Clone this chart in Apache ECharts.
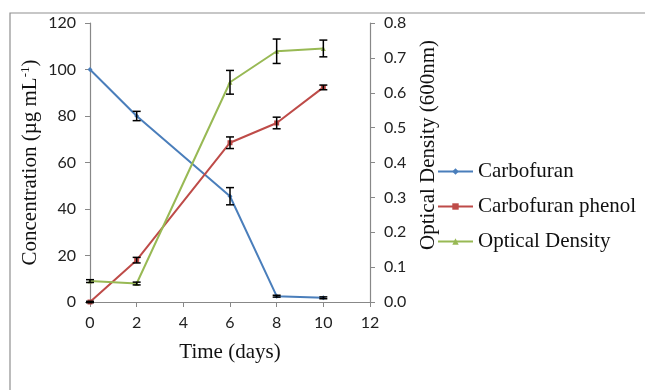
<!DOCTYPE html>
<html>
<head>
<meta charset="utf-8">
<script src="https://cdn.jsdelivr.net/npm/echarts@6/dist/echarts.min.js"></script>
<style>html,body{margin:0;padding:0;background:#fff}#c{width:645px;height:390px}</style>
</head>
<body>
<div id="c"></div>
<script>
const days = [0, 2, 6, 8, 10];
const carbofuran = [100, 80, 45.5, 2.5, 1.8];
const carbofuranErr = [0, 2, 3.7, 0.4, 0.4];
const phenol = [0, 18, 68.5, 77, 92.3];
const phenolErr = [0.3, 1.2, 2.5, 2.5, 1];
const od = [0.06, 0.053, 0.63, 0.719, 0.727];
const odErr = [0.004, 0.004, 0.034, 0.035, 0.024];
const xTicks = [0, 2, 4, 6, 8, 10, 12];
const leftTicks = [0, 20, 40, 60, 80, 100, 120];
const rightTicks = [0, 0.1, 0.2, 0.3, 0.4, 0.5, 0.6, 0.7, 0.8];

const serif = '"Liberation Serif","Times New Roman",serif';
const sans = 'Lato, "Open Sans", sans-serif';
const axisCol = '#888888';
const colors = ['#4a7ebb', '#be4b48', '#98b954'];
const tickFont = 16;

function pairs(ys) { return days.map((d, i) => [d, ys[i]]); }
function errData(ys, es) { return days.map((d, i) => [d, ys[i] - es[i], ys[i] + es[i]]); }
function errSeries(ys, es, axisIdx) {
  return {
    type: 'custom', yAxisIndex: axisIdx, silent: true, z: 5,
    data: errData(ys, es),
    renderItem: function (params, api) {
      const x = api.value(0);
      if (api.value(2) - api.value(1) <= 0) return null;
      const lo = api.coord([x, api.value(1)]);
      const hi = api.coord([x, api.value(2)]);
      const w = 4;
      const st = { stroke: '#000', lineWidth: 1.5 };
      return { type: 'group', children: [
        { type: 'line', shape: { x1: lo[0], y1: lo[1], x2: hi[0], y2: hi[1] }, style: st },
        { type: 'line', shape: { x1: lo[0] - w, y1: lo[1], x2: lo[0] + w, y2: lo[1] }, style: st },
        { type: 'line', shape: { x1: hi[0] - w, y1: hi[1], x2: hi[0] + w, y2: hi[1] }, style: st }
      ] };
    }
  };
}

const axisCommon = {
  axisLine: { show: true, lineStyle: { color: axisCol, width: 1.2 } },
  axisTick: { show: true, inside: false, length: 5, lineStyle: { color: axisCol } },
  splitLine: { show: false }
};

const chart = echarts.init(document.getElementById('c'), null, { renderer: 'canvas' });
chart.setOption({
  animation: false,
  backgroundColor: '#fff',
  color: colors,
  grid: { left: 90, right: 275, top: 23, bottom: 88 },
  graphic: [
    { type: 'rect', z: -10, shape: { x: 10, y: 13, width: 700, height: 420 }, style: { fill: 'none', stroke: '#8f8f8f', lineWidth: 1.2 } },
    { type: 'text', x: 428, y: 145, rotation: Math.PI / 2,
      style: { text: 'Optical Density (600nm)', font: '21px ' + serif, fill: '#111', align: 'center', verticalAlign: 'middle' } }
  ],
  legend: {
    orient: 'vertical', left: 437, top: 161, padding: 0, itemGap: 14, itemWidth: 35, itemHeight: 8,
    textStyle: { fontFamily: serif, fontSize: 21, color: '#111' },
    data: ['Carbofuran', 'Carbofuran phenol', 'Optical Density']
  },
  xAxis: Object.assign({}, axisCommon, {
    type: 'value', min: 0, max: 12, interval: 2,
    name: 'Time (days)', nameLocation: 'middle', nameGap: 40,
    nameTextStyle: { fontFamily: serif, fontSize: 21, color: '#111' },
    axisLabel: { fontFamily: sans, fontSize: tickFont, color: '#222', margin: 13,
      formatter: v => xTicks.includes(v) ? String(v) : '' }
  }),
  yAxis: [
    Object.assign({}, axisCommon, {
      type: 'value', min: 0, max: 120, interval: 20, position: 'left',
      name: 'Concentration (µg mL{sup|-1})', nameLocation: 'middle', nameGap: 48,
      nameTextStyle: { fontFamily: serif, fontSize: 21, color: '#111',
        rich: { sup: { fontFamily: serif, fontSize: 13, verticalAlign: 'top', padding: [0, 0, 10, 0] } } },
      axisLabel: { fontFamily: sans, fontSize: tickFont, color: '#222', margin: 14,
        formatter: v => leftTicks.includes(v) ? String(v) : '' }
    }),
    Object.assign({}, axisCommon, {
      type: 'value', min: 0, max: 0.8, interval: 0.1, position: 'right',
      axisLabel: { fontFamily: sans, fontSize: tickFont, color: '#222', margin: 14,
        formatter: v => rightTicks.some(t => Math.abs(t - v) < 1e-9) ? v.toFixed(1) : '' }
    })
  ],
  series: [
    { name: 'Carbofuran', type: 'line', data: pairs(carbofuran), symbol: 'diamond', symbolSize: 5,
      lineStyle: { width: 2, color: colors[0] }, itemStyle: { color: colors[0] }, z: 3 },
    { name: 'Carbofuran phenol', type: 'line', data: pairs(phenol), symbol: 'rect', symbolSize: 5,
      lineStyle: { width: 2, color: colors[1] }, itemStyle: { color: colors[1] }, z: 3 },
    { name: 'Optical Density', type: 'line', yAxisIndex: 1, data: pairs(od), symbol: 'triangle', symbolSize: 5,
      lineStyle: { width: 2, color: colors[2] }, itemStyle: { color: colors[2] }, z: 3 },
    errSeries(carbofuran, carbofuranErr, 0),
    errSeries(phenol, phenolErr, 0),
    errSeries(od, odErr, 1)
  ]
});
</script>
</body>
</html>
